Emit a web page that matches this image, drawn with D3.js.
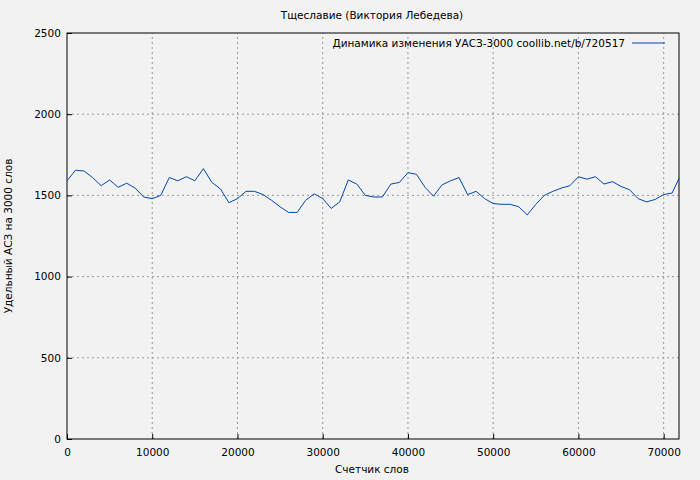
<!DOCTYPE html>
<html><head><meta charset="utf-8">
<script src="https://cdn.jsdelivr.net/npm/d3@7"></script>
<style>body{margin:0;background:#f2f2f2}text{font-family:"DejaVu Sans",sans-serif;font-size:10.5px}</style>
</head><body><div id="graph"></div>
<script>
// word counter positions and values
const words = [0,1000,2000,3000,4000,5000,6000,7000,8000,9000,10000,11000,12000,13000,14000,15000,16000,17000,18000,19000,20000,21000,22000,23000,24000,25000,26000,27000,28000,29000,30000,31000,32000,33000,34000,35000,36000,37000,38000,39000,40000,41000,42000,43000,44000,45000,46000,47000,48000,49000,50000,51000,52000,53000,54000,55000,56000,57000,58000,59000,60000,61000,62000,63000,64000,65000,66000,67000,68000,69000,70000,71000,71800];
const values = [1590,1655,1650,1610,1560,1595,1550,1575,1545,1490,1480,1500,1610,1590,1615,1590,1665,1580,1540,1455,1480,1525,1525,1505,1470,1430,1395,1395,1470,1510,1480,1420,1460,1595,1570,1500,1490,1490,1570,1580,1640,1630,1550,1495,1565,1590,1610,1505,1525,1480,1450,1445,1445,1430,1380,1445,1500,1525,1545,1560,1615,1600,1615,1570,1585,1555,1535,1480,1460,1475,1505,1515,1605];
const xTicks = [0,10000,20000,30000,40000,50000,60000,70000];
const yTicks = [0,500,1000,1500,2000,2500];

const W = 700, H = 480;
const margin = {top: 33, right: 21, bottom: 41, left: 67};
const svg = d3.select('#graph').append('svg').attr('width', W).attr('height', H);
svg.append('rect').attr('width', W).attr('height', H).attr('fill', '#f2f2f2');

const x = d3.scaleLinear().domain([0, 71800]).range([margin.left, W - margin.right]);
const y = d3.scaleLinear().domain([0, 2500]).range([H - margin.bottom, margin.top]);

// grid
svg.append('g').selectAll('line').data(xTicks.slice(1)).join('line')
  .attr('x1', d => x(d)).attr('x2', d => x(d)).attr('y1', y(0)).attr('y2', y(2500))
  .attr('stroke', '#999').attr('stroke-dasharray', '2,3');
svg.append('g').selectAll('line').data(yTicks.slice(1, -1)).join('line')
  .attr('x1', x(0)).attr('x2', x(71800)).attr('y1', d => y(d)).attr('y2', d => y(d))
  .attr('stroke', '#999').attr('stroke-dasharray', '2,3');

svg.append('g').attr('transform', `translate(0,${y(0)})`)
  .call(d3.axisBottom(x).tickValues(xTicks).tickFormat(d3.format('d')).tickSizeInner(-5).tickSizeOuter(0))
  .call(g => g.select('.domain').remove())
  .selectAll('text').attr('dy', '1.3em');
svg.append('g').attr('transform', `translate(${x(0)},0)`)
  .call(d3.axisLeft(y).tickValues(yTicks).tickFormat(d3.format('d')).tickSizeInner(-5).tickSizeOuter(0))
  .call(g => g.select('.domain').remove())
  .selectAll('text').attr('dx', '-0.3em');
svg.selectAll('.tick text').style('font-size', '10.5px').attr('fill', '#000');

svg.append('rect').attr('x', x(0)).attr('y', y(2500))
  .attr('width', x(71800) - x(0)).attr('height', y(0) - y(2500))
  .attr('fill', 'none').attr('stroke', '#000');

const line = d3.line().x((d, i) => x(words[i])).y(d => y(d));
svg.append('path').attr('d', line(values)).attr('fill', 'none')
  .attr('stroke', '#0047ab').attr('stroke-width', 1);

svg.append('text').attr('x', 372).attr('y', 19).attr('text-anchor', 'middle').text('Тщеславие (Виктория Лебедева)');
svg.append('text').attr('x', 372).attr('y', 473).attr('text-anchor', 'middle').text('Счетчик слов');
svg.append('text').attr('transform', `translate(12,${(y(0) + y(2500)) / 2}) rotate(-90)`)
  .attr('text-anchor', 'middle').text('Удельный АСЗ на 3000 слов');
svg.append('text').attr('x', 625).attr('y', 47).attr('text-anchor', 'end')
  .text('Динамика изменения УАСЗ-3000 coollib.net/b/720517');
svg.append('line').attr('x1', 632).attr('x2', 665).attr('y1', 43).attr('y2', 43)
  .attr('stroke', '#0047ab');
</script></body></html>
